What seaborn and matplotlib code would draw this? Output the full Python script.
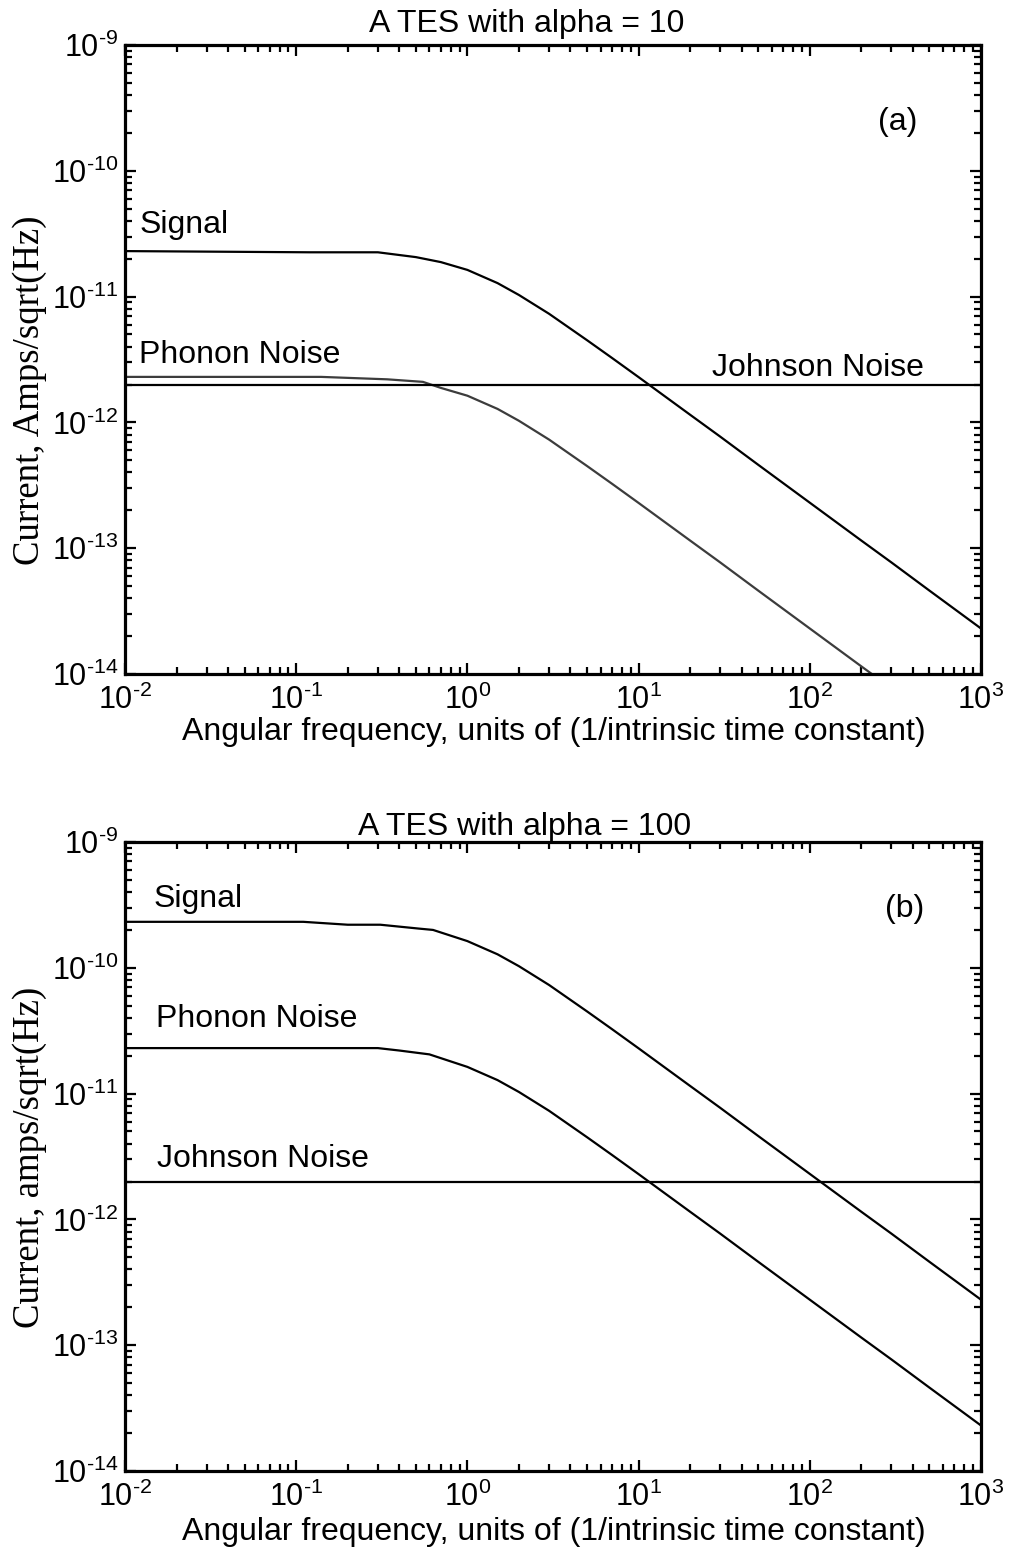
import matplotlib
matplotlib.use("Agg")
import matplotlib.pyplot as plt
import numpy as np
import pandas as pd
import seaborn as sns
from matplotlib.ticker import LogLocator, FuncFormatter, NullFormatter

sns.set_style("ticks")
plt.rcParams["font.family"] = ["Liberation Sans", "DejaVu Sans"]
plt.rcParams["mathtext.fontset"] = "custom"
plt.rcParams["mathtext.rm"] = "Liberation Sans"
plt.rcParams["mathtext.it"] = "Liberation Sans:italic"
plt.rcParams["mathtext.bf"] = "Liberation Sans:bold"
for key in ("text.color", "axes.labelcolor", "xtick.color", "ytick.color",
            "axes.edgecolor"):
    plt.rcParams[key] = "black"

# ---- panel (a): alpha = 10 ----
signal_a_w = [0.01, 0.12, 0.3, 0.5, 0.7, 1, 1.5, 2, 3, 5, 7, 10, 20, 30, 50,
              100, 200, 300, 500, 1000]
signal_a = [2.30e-11, 2.25e-11, 2.25e-11, 2.06e-11, 1.88e-11, 1.63e-11, 1.28e-11,
            1.03e-11, 7.3e-12, 4.5e-12, 3.25e-12, 2.29e-12, 1.15e-12, 7.7e-13,
            4.6e-13, 2.3e-13, 1.15e-13, 7.7e-14, 4.6e-14, 2.3e-14]

phonon_a_w = [0.01, 0.14, 0.34, 0.55, 0.7, 1, 1.5, 2, 3, 5, 7, 10, 20, 30, 50,
              100, 200, 300]
phonon_a = [2.3e-12, 2.3e-12, 2.2e-12, 2.1e-12, 1.88e-12, 1.63e-12, 1.28e-12,
            1.03e-12, 7.3e-13, 4.5e-13, 3.25e-13, 2.29e-13, 1.15e-13, 7.7e-14,
            4.6e-14, 2.3e-14, 1.15e-14, 7.7e-15]

johnson_a_w = [0.01, 1000]
johnson_a = [2.0e-12, 2.0e-12]

# ---- panel (b): alpha = 100 ----
signal_b_w = [0.01, 0.11, 0.2, 0.31, 0.52, 0.63, 1, 1.5, 2, 3, 5, 7, 10, 20, 30,
              50, 100, 200, 300, 500, 1000]
signal_b = [2.32e-10, 2.32e-10, 2.2e-10, 2.2e-10, 2.05e-10, 2.0e-10, 1.63e-10,
            1.28e-10, 1.03e-10, 7.3e-11, 4.5e-11, 3.25e-11, 2.29e-11, 1.15e-11,
            7.7e-12, 4.6e-12, 2.3e-12, 1.15e-12, 7.7e-13, 4.6e-13, 2.3e-13]

phonon_b_w = [0.01, 0.3, 0.4, 0.6, 1, 1.5, 2, 3, 5, 7, 10, 20, 30, 50, 100, 200,
              300, 500, 1000]
phonon_b = [2.3e-11, 2.3e-11, 2.2e-11, 2.05e-11, 1.63e-11, 1.28e-11, 1.03e-11,
            7.3e-12, 4.5e-12, 3.25e-12, 2.29e-12, 1.15e-12, 7.7e-13, 4.6e-13,
            2.3e-13, 1.15e-13, 7.7e-14, 4.6e-14, 2.3e-14]

johnson_b_w = [0.01, 1000]
johnson_b = [2.0e-12, 2.0e-12]

x_ticks = [1e-2, 1e-1, 1e0, 1e1, 1e2, 1e3]
y_ticks = [1e-14, 1e-13, 1e-12, 1e-11, 1e-10, 1e-9]


def frame(w_lists, v_lists, names):
    rows = []
    for w, v, n in zip(w_lists, v_lists, names):
        rows.append(pd.DataFrame({"omega": w, "current": v, "series": n}))
    return pd.concat(rows, ignore_index=True)


df_a = frame([signal_a_w, phonon_a_w, johnson_a_w],
             [signal_a, phonon_a, johnson_a],
             ["Signal", "Phonon Noise", "Johnson Noise"])
df_b = frame([signal_b_w, phonon_b_w, johnson_b_w],
             [signal_b, phonon_b, johnson_b],
             ["Signal", "Phonon Noise", "Johnson Noise"])


def power_label(v, pos):
    e = int(round(np.log10(v)))
    sign = "\u2010" if e < 0 else ""
    return "$10^{%s%d}$" % (sign, abs(e))


fig = plt.figure(figsize=(10.14, 15.5), dpi=100)
W, H = 1014.0, 1550.0
ax_a = fig.add_axes([125 / W, 1 - 674 / H, 856 / W, 629 / H])
ax_b = fig.add_axes([125 / W, 1 - 1471 / H, 856 / W, 629 / H])


def style_axes(ax):
    ax.set_xscale("log")
    ax.set_yscale("log")
    ax.set_xlim(1e-2, 1e3)
    ax.set_ylim(1e-14, 1e-9)
    ax.set_xticks(x_ticks)
    ax.set_yticks(y_ticks)
    ax.xaxis.set_major_formatter(FuncFormatter(power_label))
    ax.yaxis.set_major_formatter(FuncFormatter(power_label))
    for axis in (ax.xaxis, ax.yaxis):
        axis.set_minor_locator(LogLocator(base=10, subs=range(2, 10), numticks=20))
        axis.set_minor_formatter(NullFormatter())
    ax.tick_params(which="both", direction="in", top=True, right=True,
                   color="black", width=1.6)
    ax.tick_params(which="major", length=8, labelsize=22, pad=5)
    ax.tick_params(which="minor", length=5)
    ax.tick_params(axis="x", which="major", pad=8)
    for s in ax.spines.values():
        s.set_linewidth(2.3)
        s.set_color("black")
    ax.set_xlabel("")
    ax.set_ylabel("")


palette_a = {"Signal": "black", "Phonon Noise": "#3c3c3c", "Johnson Noise": "black"}
palette_b = {"Signal": "black", "Phonon Noise": "black", "Johnson Noise": "black"}

sns.lineplot(data=df_a, x="omega", y="current", hue="series", palette=palette_a,
             estimator=None, legend=False, linewidth=1.6, ax=ax_a)
sns.lineplot(data=df_b, x="omega", y="current", hue="series", palette=palette_b,
             estimator=None, legend=False, linewidth=1.6, ax=ax_b)

for ax in (ax_a, ax_b):
    style_axes(ax)

txt = dict(fontsize=23, color="black")
ax_a.text(0.0165, 0.701, "Signal", transform=ax_a.transAxes, va="baseline", **txt)
ax_a.text(0.0165, 0.494, "Phonon Noise", transform=ax_a.transAxes, va="baseline", **txt)
ax_a.text(0.686, 0.474, "Johnson Noise", transform=ax_a.transAxes, va="baseline", **txt)
ax_a.text(0.880, 0.878, "(a)", transform=ax_a.transAxes, va="center", **txt)

ax_b.text(0.033, 0.897, "Signal", transform=ax_b.transAxes, va="baseline", **txt)
ax_b.text(0.036, 0.706, "Phonon Noise", transform=ax_b.transAxes, va="baseline", **txt)
ax_b.text(0.037, 0.483, "Johnson Noise", transform=ax_b.transAxes, va="baseline", **txt)
ax_b.text(0.888, 0.894, "(b)", transform=ax_b.transAxes, va="center", **txt)

# titles and axis labels
fig.text(527 / W, 1 - 32 / H, "A TES with alpha = 10", ha="center", va="baseline", **txt)
fig.text(525 / W, 1 - 835 / H, "A TES with alpha = 100", ha="center", va="baseline", **txt)

xlab = "Angular frequency, units of (1/intrinsic time constant)"
fig.text(554 / W, 1 - 740 / H, xlab, ha="center", va="baseline", **txt)
fig.text(554 / W, 1 - 1540 / H, xlab, ha="center", va="baseline", **txt)

serif = ["Liberation Serif", "DejaVu Serif"]
fig.text(30 / W, 1 - 390 / H, "Current, Amps/sqrt(Hz)", rotation=90, ha="center",
         va="center", fontsize=26.5, family=serif)
fig.text(30 / W, 1 - 1157 / H, "Current, amps/sqrt(Hz)", rotation=90, ha="center",
         va="center", fontsize=26.5, family=serif)

fig.savefig("out.png", dpi=100, facecolor="white")
